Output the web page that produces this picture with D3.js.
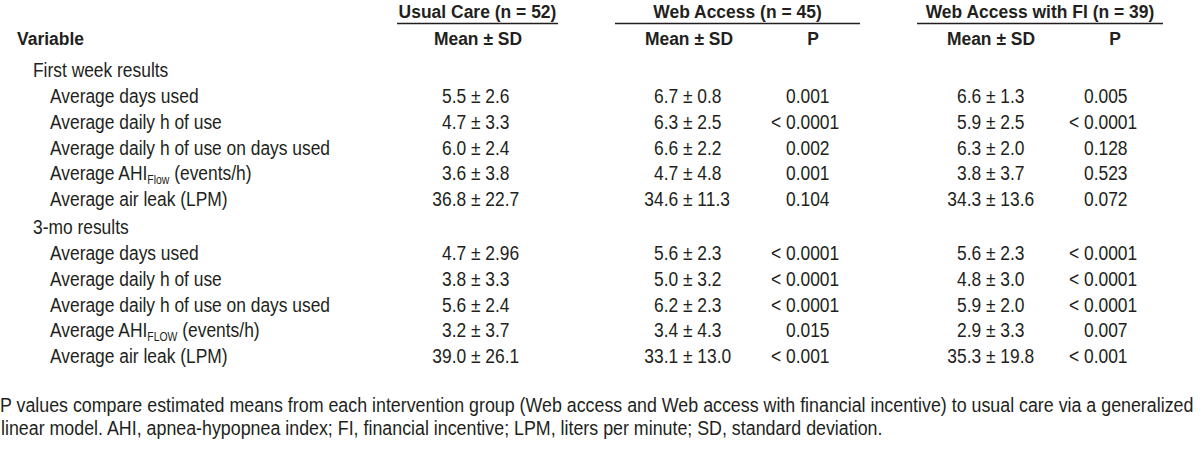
<!DOCTYPE html>
<html>
<head>
<meta charset="utf-8">
<script src="https://cdn.jsdelivr.net/npm/d3@7"></script>
<style>
  html, body { margin: 0; padding: 0; background: #fff; }
  svg { display: block; }
  text { font-family: "Liberation Sans", Arial, Helvetica, sans-serif; fill: #231f20; }
</style>
</head>
<body>
<script>
// ---------- data ----------
const groups = ["Usual Care (n = 52)", "Web Access (n = 45)", "Web Access with FI (n = 39)"];
const subHeaders = ["Mean ± SD", "Mean ± SD", "P", "Mean ± SD", "P"];
const sections = ["First week results", "3-mo results"];
const firstWeekLabels = ["Average days used", "Average daily h of use", "Average daily h of use on days used", "Average AHI|Flow| (events/h)", "Average air leak (LPM)"];
const threeMonthLabels = ["Average days used", "Average daily h of use", "Average daily h of use on days used", "Average AHI|FLOW| (events/h)", "Average air leak (LPM)"];

const usualFirst = ["5.5 ± 2.6", "4.7 ± 3.3", "6.0 ± 2.4", "3.6 ± 3.8", "36.8 ± 22.7"];
const webFirst   = ["6.7 ± 0.8", "6.3 ± 2.5", "6.6 ± 2.2", "4.7 ± 4.8", "34.6 ± 11.3"];
const webPFirst  = ["0.001", "< 0.0001", "0.002", "0.001", "0.104"];
const fiFirst    = ["6.6 ± 1.3", "5.9 ± 2.5", "6.3 ± 2.0", "3.8 ± 3.7", "34.3 ± 13.6"];
const fiPFirst   = ["0.005", "< 0.0001", "0.128", "0.523", "0.072"];

const usualThree = ["4.7 ± 2.96", "3.8 ± 3.3", "5.6 ± 2.4", "3.2 ± 3.7", "39.0 ± 26.1"];
const webThree   = ["5.6 ± 2.3", "5.0 ± 3.2", "6.2 ± 2.3", "3.4 ± 4.3", "33.1 ± 13.0"];
const webPThree  = ["< 0.0001", "< 0.0001", "< 0.0001", "0.015", "< 0.001"];
const fiThree    = ["5.6 ± 2.3", "4.8 ± 3.0", "5.9 ± 2.0", "2.9 ± 3.3", "35.3 ± 19.8"];
const fiPThree   = ["< 0.0001", "< 0.0001", "< 0.0001", "0.007", "< 0.001"];

const footnotes = [
  "P values compare estimated means from each intervention group (Web access and Web access with financial incentive) to usual care via a generalized",
  "linear model. AHI, apnea-hypopnea index; FI, financial incentive; LPM, liters per minute; SD, standard deviation."
];

// ---------- layout ----------
const W = 1200, H = 450;
const SX = 0.87;           // horizontal condensing of the regular face
const SXB = 0.92;          // horizontal condensing of the bold face
const bodySize = 20, boldSize = 19, footSize = 19.5;

const svg = d3.select("body").append("svg").attr("width", W).attr("height", H);

const colKeys = ["usualMean", "webMean", "webP", "fiMean", "fiP"];
// anchor: for means the x of the "±", for P values the x of the leading "0"
const xAnchor = d3.scaleOrdinal().domain(colKeys).range([471, 683, 786, 986, 1084]);
const xHeadCenter = d3.scaleOrdinal().domain(colKeys).range([478, 689, 813, 991, 1115]);
const xGroup = d3.scaleOrdinal().domain(groups).range([[397, 558], [615, 860], [917, 1163]]);

const yRow = d3.scaleLinear().domain([0, 4]).range([103, 206]);
const sectionOffset = d3.scaleOrdinal().domain(sections).range([0, 157]);
const sectionY = d3.scaleOrdinal().domain(sections).range([77, 234]);

function place(sel, x, y, sx) {
  sel.attr("transform", `translate(${x},${y}) scale(${sx},1)`);
}

// group headers + rules
groups.forEach(g => {
  const [x0, x1] = xGroup(g);
  const t = svg.append("text").text(g)
    .attr("font-size", boldSize).attr("font-weight", "bold").attr("text-anchor", "middle");
  place(t, (x0 + x1) / 2, 17.5, SXB);
  svg.append("line").attr("x1", x0).attr("x2", x1).attr("y1", 23.5).attr("y2", 23.5)
    .attr("stroke", "#231f20").attr("stroke-width", 1.3);
});

// sub headers
const vt = svg.append("text").text("Variable").attr("font-size", boldSize).attr("font-weight", "bold");
place(vt, 17, 45, SXB);
colKeys.forEach((k, i) => {
  const t = svg.append("text").text(subHeaders[i])
    .attr("font-size", boldSize).attr("font-weight", "bold").attr("text-anchor", "middle");
  place(t, xHeadCenter(k), 45, SXB);
});

// label with optional subscript |sub|
function drawLabel(str, x, y) {
  const t = svg.append("text").attr("font-size", bodySize);
  const parts = str.split("|");
  t.append("tspan").text(parts[0]);
  if (parts.length > 1) {
    t.append("tspan").text(parts[1]).attr("font-size", 12).attr("dy", 4);
    t.append("tspan").text(parts[2]).attr("dy", -4);
  }
  place(t, x, y, SX);
}

function drawAligned(str, key, y) {
  const t = svg.append("text").text(str).attr("font-size", bodySize);
  let idx;
  if (str.indexOf("±") >= 0) idx = str.indexOf("±");
  else idx = str.indexOf("0");
  const shift = idx > 0 ? t.node().getSubStringLength(0, idx) * SX : 0;
  place(t, xAnchor(key) - shift, y, SX);
}

const sectionData = [
  { name: sections[0], labels: firstWeekLabels, cols: [usualFirst, webFirst, webPFirst, fiFirst, fiPFirst] },
  { name: sections[1], labels: threeMonthLabels, cols: [usualThree, webThree, webPThree, fiThree, fiPThree] }
];

sectionData.forEach(sec => {
  const st = svg.append("text").text(sec.name).attr("font-size", bodySize);
  place(st, 33, sectionY(sec.name), SX);
  sec.labels.forEach((lab, i) => {
    const y = yRow(i) + sectionOffset(sec.name);
    drawLabel(lab, 50, y);
    colKeys.forEach((k, c) => drawAligned(sec.cols[c][i], k, y));
  });
});

// footnotes: fit first line to the page width, same condensing for both
const f1 = svg.append("text").text(footnotes[0]).attr("font-size", footSize);
const fsx = 1194 / f1.node().getComputedTextLength();
place(f1, 0, 412, fsx);
const f2 = svg.append("text").text(footnotes[1]).attr("font-size", footSize);
place(f2, 1, 435, fsx);
</script>
</body>
</html>
